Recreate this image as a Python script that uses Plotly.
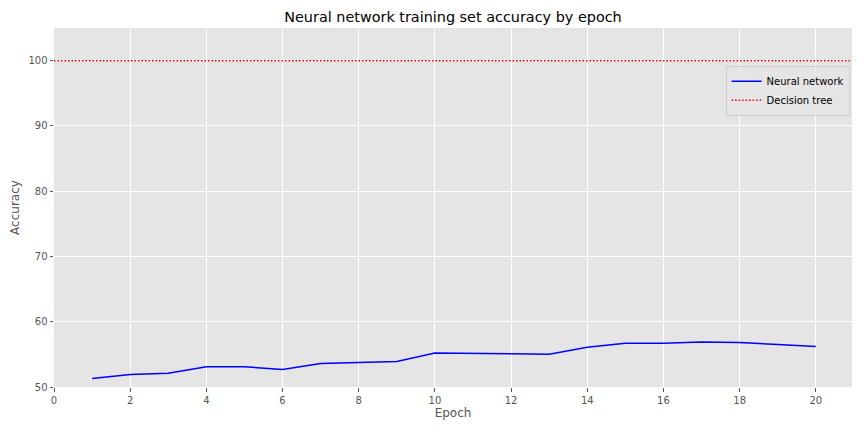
import plotly.graph_objects as go

epochs = list(range(1, 21))
nn_accuracy = [51.3, 51.9, 52.1, 53.1, 53.1, 52.7, 53.6, 53.7, 53.9, 55.2,
               55.2, 55.1, 55.0, 56.1, 56.7, 56.7, 56.9, 56.8, 56.5, 56.2]
tree_accuracy = 100.0
x_ticks = [0, 2, 4, 6, 8, 10, 12, 14, 16, 18, 20]
y_ticks = [50, 60, 70, 80, 90, 100]

font = "DejaVu Sans"
fig = go.Figure()
fig.add_trace(go.Scatter(x=epochs, y=nn_accuracy, mode="lines", name="Neural network",
                         line=dict(color="blue", width=1.5)))
fig.add_trace(go.Scatter(x=[0, 20.95], y=[tree_accuracy, tree_accuracy], mode="lines",
                         name="Decision tree", line=dict(color="red", width=1.5, dash="1.5px,2px")))

fig.update_layout(
    width=864, height=432,
    margin=dict(l=46, r=20, t=20, b=53, autoexpand=False),
    paper_bgcolor="white", plot_bgcolor="#E5E5E5",
    font=dict(family=font, size=10, color="#555555"),
    title=dict(text="Neural network training set accuracy by epoch", x=0.5, xanchor="center",
               xref="paper", y=1 - 9 / 432, yref="container", yanchor="middle",
               font=dict(size=14.4, color="black", family=font)),
    showlegend=True,
    legend=dict(x=0.997, y=0.895, xanchor="right", yanchor="top",
                bgcolor="rgba(229,229,229,0.8)", bordercolor="#CCCCCC", borderwidth=1,
                tracegroupgap=0, itemwidth=30,
                font=dict(size=10, color="black", family=font)),
)
fig.update_xaxes(range=[0, 20.95], tickvals=x_ticks, showgrid=True, gridcolor="white", gridwidth=1,
                 zeroline=False, ticks="outside", ticklen=3.5, tickcolor="#555555", automargin=False,
                 title=dict(text="Epoch", font=dict(size=12, color="#555555"), standoff=4),
                 showline=False)
fig.update_yaxes(range=[50, 105], tickvals=y_ticks, showgrid=True, gridcolor="white", gridwidth=1,
                 zeroline=False, ticks="outside", ticklen=3.5, tickcolor="#555555", automargin=False,
                 title=dict(text="Accuracy", font=dict(size=12, color="#555555"), standoff=6),
                 showline=False)

fig.write_html("out.html")
